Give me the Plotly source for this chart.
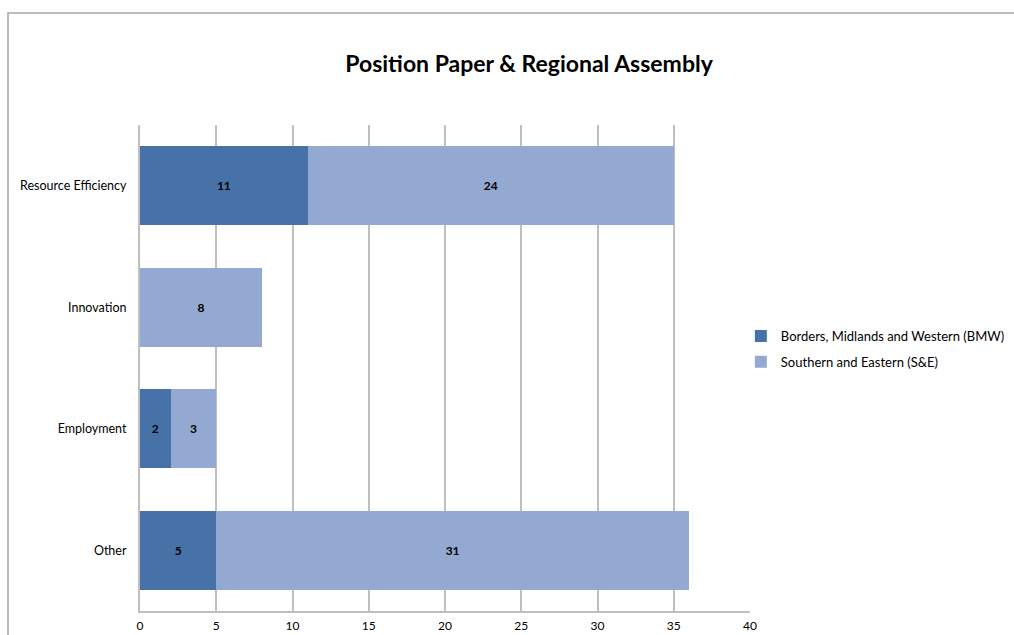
import plotly.graph_objects as go

# Categories (top to bottom) and counts per region
categories = ["Resource Efficiency", "Innovation", "Employment", "Other"]
bmw_values = [11, 0, 2, 5]
se_values = [24, 8, 3, 31]
series_names = ["Borders, Midlands and Western (BMW)", "Southern and Eastern (S&E)"]
x_ticks = [0, 5, 10, 15, 20, 25, 30, 35, 40]

dark_blue = "#4672A8"
light_blue = "#94A9D1"
font_family = "Lato, 'Open Sans', sans-serif"


def labels(vals):
    return [str(v) if v else "" for v in vals]


fig = go.Figure()
fig.add_trace(go.Bar(
    y=categories, x=bmw_values, orientation="h", name=series_names[0],
    legendgroup="bmw",
    marker=dict(color=dark_blue, line=dict(width=0)),
    text=labels(bmw_values), textposition="inside", insidetextanchor="middle",
    textfont=dict(family=font_family, size=12, color="black", weight="bold"),
    hoverinfo="x+name",
))
fig.add_trace(go.Bar(
    y=categories, x=se_values, orientation="h", name=series_names[1],
    legendgroup="se",
    marker=dict(color=light_blue, line=dict(width=0)),
    text=labels(se_values), textposition="inside", insidetextanchor="middle",
    textfont=dict(family=font_family, size=12, color="black", weight="bold"),
    hoverinfo="x+name",
))

fig.update_layout(
    width=1014, height=635,
    barmode="stack", bargap=0.35,
    paper_bgcolor="white", plot_bgcolor="white",
    margin=dict(l=140, r=264, t=125, b=24, autoexpand=False),
    font=dict(family=font_family, size=13, color="black"),
    title=dict(
        text="<b>Position Paper & Regional Assembly</b>",
        x=529 / 1014, xanchor="center", y=1 - 64 / 635, yanchor="middle",
        font=dict(family=font_family, size=23, color="black"),
    ),
    legend=dict(
        x=0.985, y=(611 - 349) / 486, xanchor="left", yanchor="middle",
        font=dict(family=font_family, size=13, color="black"),
        traceorder="grouped", itemwidth=30, tracegroupgap=6,
    ),
    uniformtext=dict(mode="show", minsize=8),
    xaxis=dict(
        range=[0, 40], tickvals=x_ticks, showgrid=True,
        gridcolor="#BFBFBF", gridwidth=2, zeroline=False,
        showline=True, linecolor="#BFBFBF", linewidth=2,
        ticks="", ticklabelstandoff=3, automargin=False,
        tickfont=dict(family=font_family, size=12, color="black"),
        fixedrange=True,
    ),
    yaxis=dict(
        autorange="reversed", showgrid=False, zeroline=False,
        showline=True, linecolor="#BFBFBF", linewidth=2,
        ticks="", ticklabelstandoff=9, automargin=False,
        tickfont=dict(family=font_family, size=12.5, color="black"),
        fixedrange=True,
    ),
    shapes=[dict(
        type="rect", xref="paper", yref="paper",
        x0=(8 - 140) / 610, x1=1.5, y0=-0.2, y1=(611 - 13) / 486,
        line=dict(color="#A6A6A6", width=1.5), fillcolor="rgba(0,0,0,0)",
        layer="below",
    )],
)

fig.write_html("out.html")
